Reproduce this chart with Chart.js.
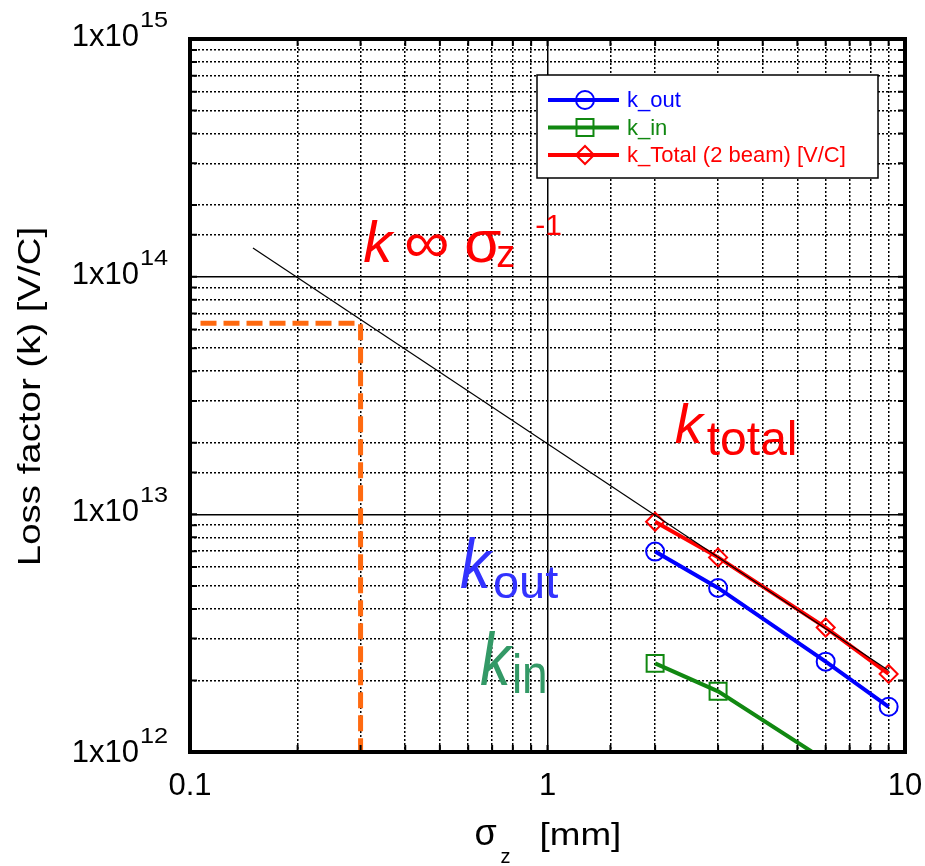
<!DOCTYPE html>
<html>
<head>
<meta charset="utf-8">
<title>Loss factor vs sigma_z</title>
<script src="https://cdn.jsdelivr.net/npm/chart.js@4.4.0/dist/chart.umd.min.js"></script>
<style>
  html, body { margin: 0; padding: 0; background: #fff; }
  canvas { display: block; }
</style>
</head>
<body>
<canvas id="chartLoss" width="925" height="866"></canvas>
<script>
// Datos (sigma_z en mm, k en V/C)
const sigmaZ = [2, 3, 6, 9];
const kOut = [6.97e12, 4.90e12, 2.40e12, 1.55e12];
const kIn = [2.36e12, 1.80e12, 9.2e11];      // el tercer punto queda bajo el eje
const kTotal = [9.31e12, 6.59e12, 3.34e12, 2.13e12];

// recta k ~ 1/sigma
const fitSigma = [0.15, 9];
const fitK = [1.32e14, 2.2e12];

// guia naranja en sigma = 0.3 mm
const guideSigma = [0.107, 0.3, 0.3];
const guideK = [6.37e13, 6.37e13, 1e12];

// etiquetas de ejes
const xTickValues = [0.1, 1, 10];
const xTickLabels = ['0.1', '1', '10'];
const yTickValues = [1e12, 1e13, 1e14, 1e15];
const yTickExp = ['12', '13', '14', '15'];

const FONT = 'Arial, "Liberation Sans", sans-serif';

function isDecade(v) {
    const l = Math.log10(v);
    return Math.abs(l - Math.round(l)) < 1e-6;
}

function points(xs, ys) {
    return ys.map((y, i) => ({ x: xs[i], y: y }));
}

function put(ctx, str, x, y, font, color, align, sx, sy) {
    ctx.save();
    ctx.translate(x, y);
    ctx.scale(sx || 1, sy || 1);
    ctx.font = font;
    ctx.fillStyle = color;
    ctx.textAlign = align || 'left';
    ctx.textBaseline = 'alphabetic';
    ctx.fillText(str, 0, 0);
    ctx.restore();
}

/**
 * Marco, ticks interiores, etiquetas, anotaciones y leyenda
 */
const decorPlugin = {
    id: 'decor',
    beforeDraw(chart) {
        const ctx = chart.ctx;
        ctx.save();
        ctx.fillStyle = '#fff';
        ctx.fillRect(0, 0, chart.width, chart.height);
        ctx.restore();
    },
    afterDraw(chart) {
        const ctx = chart.ctx;
        const a = chart.chartArea;
        const xs = chart.scales.x;
        const ys = chart.scales.y;

        // ticks hacia adentro
        ctx.save();
        ctx.strokeStyle = '#000';
        ctx.lineWidth = 2;
        ctx.beginPath();
        xs.ticks.forEach(t => {
            const px = xs.getPixelForValue(t.value);
            ctx.moveTo(px, a.bottom); ctx.lineTo(px, a.bottom - 7);
            ctx.moveTo(px, a.top); ctx.lineTo(px, a.top + 7);
        });
        ys.ticks.forEach(t => {
            const py = ys.getPixelForValue(t.value);
            ctx.moveTo(a.left, py); ctx.lineTo(a.left + 7, py);
            ctx.moveTo(a.right, py); ctx.lineTo(a.right - 7, py);
        });
        ctx.stroke();

        // marco grueso
        ctx.lineWidth = 4;
        ctx.strokeRect(a.left, a.top, a.right - a.left, a.bottom - a.top);
        ctx.restore();

        // etiquetas eje y: 1x10^n
        yTickValues.forEach((v, i) => {
            const py = ys.getPixelForValue(v);
            const shift = i === 0 ? 3 : 0;
            put(ctx, '1x10', a.left - 51, py + 7 + shift, '31px ' + FONT, '#000', 'right');
            put(ctx, yTickExp[i], a.left - 50, py - 12 + shift, '22px ' + FONT, '#000', 'left', 1.15, 1);
        });

        // etiquetas eje x
        xTickValues.forEach((v, i) => {
            const px = xs.getPixelForValue(v);
            put(ctx, xTickLabels[i], px, a.bottom + 43, '31px ' + FONT, '#000', 'center');
        });

        // titulo eje x
        const cx = xs.getPixelForValue(1);
        put(ctx, '\u03c3', cx - 73, a.bottom + 93, '36px ' + FONT, '#000', 'left');
        put(ctx, 'z', cx - 47, a.bottom + 111, '20px ' + FONT, '#000', 'left');
        put(ctx, '[mm]', cx - 8, a.bottom + 93, '32px ' + FONT, '#000', 'left', 1.15, 1);

        // titulo eje y
        ctx.save();
        ctx.translate(31, (a.top + a.bottom) / 2 + 1);
        ctx.rotate(-Math.PI / 2);
        ctx.scale(1.2, 1);
        ctx.font = '32px ' + FONT;
        ctx.fillStyle = '#000';
        ctx.textAlign = 'center';
        ctx.textBaseline = 'middle';
        ctx.fillText('Loss factor (k) [V/C]', 0, 0);
        ctx.restore();

        // anotaciones
        let px = xs.getPixelForValue(0.305);
        let py = ys.getPixelForValue(1.15e14);
        put(ctx, 'k', px, py, 'italic 58px ' + FONT, '#ff0000');
        put(ctx, '\u221e', px + 41, py, '58px ' + FONT, '#ff0000', 'left', 1.1, 1);
        put(ctx, '\u03c3', px + 101, py, '60px ' + FONT, '#ff0000');
        put(ctx, 'z', px + 133, py + 5, '38px ' + FONT, '#ff0000');
        put(ctx, '-1', px + 172, py - 27, '30px ' + FONT, '#ff0000');

        px = xs.getPixelForValue(2.27);
        py = ys.getPixelForValue(2.0e13);
        put(ctx, 'k', px, py, 'italic 56px ' + FONT, '#ff0000');
        put(ctx, 'total', px + 32, py + 12, '48px ' + FONT, '#ff0000');

        px = xs.getPixelForValue(0.569);
        py = ys.getPixelForValue(4.9e12);
        put(ctx, 'k', px, py, 'italic 56px ' + FONT, '#3333ff', 'left', 1.1, 1.27);
        put(ctx, 'out', px + 33, py + 10, '47px ' + FONT, '#3333ff');

        px = xs.getPixelForValue(0.647);
        py = ys.getPixelForValue(1.91e12);
        put(ctx, 'k', px, py, 'italic 56px ' + FONT, '#339966', 'left', 1.1, 1.32);
        put(ctx, 'in', px + 32, py + 8, '46px ' + FONT, '#339966', 'left', 1, 1.2);

        // leyenda
        const lx = 537, ly = 75, lw = 341, lh = 103;
        ctx.save();
        ctx.fillStyle = '#fff';
        ctx.fillRect(lx, ly, lw, lh);
        ctx.strokeStyle = '#000';
        ctx.lineWidth = 1.5;
        ctx.strokeRect(lx, ly, lw, lh);
        let row = 0;
        chart.data.datasets.forEach(ds => {
            if (!ds.label) return;
            const y = ly + 25 + row * 27.5;
            ctx.strokeStyle = ds.borderColor;
            ctx.lineWidth = 4;
            ctx.beginPath();
            ctx.moveTo(lx + 11, y);
            ctx.lineTo(lx + 82, y);
            ctx.stroke();
            ctx.fillStyle = 'rgba(0,0,0,0)';
            ctx.lineWidth = 2;
            Chart.helpers.drawPoint(ctx, {
                pointStyle: ds.pointStyle,
                radius: ds.pointRadius,
                rotation: 0,
                borderWidth: 2
            }, lx + 48, y);
            ctx.font = '22px ' + FONT;
            ctx.fillStyle = ds.borderColor;
            ctx.textAlign = 'left';
            ctx.textBaseline = 'middle';
            ctx.fillText(ds.label, lx + 90, y + 1);
            row++;
        });
        ctx.restore();
    }
};

function gridDash(ctx) {
    if (!ctx.tick) return [];
    return isDecade(ctx.tick.value) ? [] : [2, 2];
}

const chart = new Chart(document.getElementById('chartLoss'), {
    type: 'scatter',
    data: {
        datasets: [
            {
                data: points(fitSigma, fitK),
                showLine: true,
                borderColor: '#000',
                borderWidth: 1.2,
                pointRadius: 0,
                order: 0,
            },
            {
                label: 'k_out',
                data: points(sigmaZ, kOut),
                showLine: true,
                borderColor: '#0000ff',
                borderWidth: 4,
                pointStyle: 'circle',
                pointRadius: 9,
                pointBorderWidth: 2,
                pointBackgroundColor: 'rgba(0,0,0,0)',
                order: 2,
            },
            {
                label: 'k_in',
                data: points(sigmaZ, kIn),
                showLine: true,
                borderColor: '#118811',
                borderWidth: 4,
                pointStyle: 'rect',
                pointRadius: 12,
                pointBorderWidth: 2,
                pointBackgroundColor: 'rgba(0,0,0,0)',
                order: 3,
            },
            {
                label: 'k_Total (2 beam) [V/C]',
                data: points(sigmaZ, kTotal),
                showLine: true,
                borderColor: '#ff0000',
                borderWidth: 4,
                pointStyle: 'rectRot',
                pointRadius: 9,
                pointBorderWidth: 2,
                pointBackgroundColor: 'rgba(0,0,0,0)',
                order: 1,
            },
            {
                data: points(guideSigma, guideK),
                showLine: true,
                borderColor: '#ff6a10',
                borderWidth: 5,
                borderDash: [16, 7],
                pointRadius: 0,
                order: 4,
            },
        ],
    },
    options: {
        responsive: false,
        animation: false,
        events: [],
        layout: { padding: { top: 39, right: 20, left: 0, bottom: 0 } },
        plugins: {
            legend: { display: false },
            tooltip: { enabled: false },
        },
        scales: {
            x: {
                type: 'logarithmic',
                min: 0.1,
                max: 10,
                ticks: { display: false },
                grid: { color: '#000', lineWidth: 1.5, drawTicks: false },
                border: { display: false, dash: gridDash },
                afterFit: (s) => { s.height = 114; },
            },
            y: {
                type: 'logarithmic',
                min: 1e12,
                max: 1e15,
                ticks: { display: false },
                grid: { color: '#000', lineWidth: 1.5, drawTicks: false },
                border: { display: false, dash: gridDash },
                afterFit: (s) => { s.width = 190; },
            },
        },
    },
    plugins: [decorPlugin],
});
</script>
</body>
</html>
